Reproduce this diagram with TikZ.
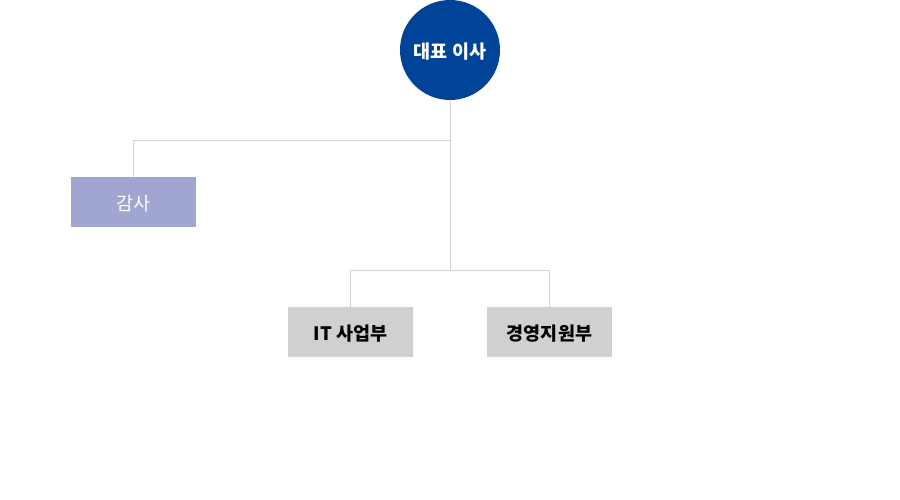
\documentclass[tikz,border=0pt]{standalone}
\usepackage{fontspec}
\setmainfont{Noto Sans CJK KR}
\definecolor{ceoblue}{HTML}{00449A}
\definecolor{auditblue}{HTML}{A0A6D0}
\definecolor{deptgray}{HTML}{D0D0D0}
\definecolor{linegray}{HTML}{D4D4D4}
\tikzset{
  ceo/.style={circle, fill=ceoblue, minimum size=100pt, inner sep=0pt, text height=17pt, text depth=0pt, text=white, font=\fontsize{18.5}{20}\selectfont\bfseries},
  auditbox/.style={rectangle, fill=auditblue, minimum width=125pt, minimum height=50pt, inner sep=0pt, text height=17pt, text depth=0pt, text=white, font=\fontsize{18.5}{20}\selectfont},
  deptbox/.style={rectangle, fill=deptgray, minimum width=125pt, minimum height=50pt, inner sep=0pt, text height=17pt, text depth=0pt, text=black, font=\fontsize{18.5}{20}\selectfont\bfseries},
  link/.style={draw=linegray, line width=1pt}
}

\begin{document}
\begin{tikzpicture}[x=1pt, y=-1pt]
    % Canvas
    \useasboundingbox (0,0) rectangle (900,500);

    % Nodes
    \node[ceo] (ceo) at (450,50) {대표 이사};
    \node[auditbox] (audit) at (133.5,202) {감사};
    \node[deptbox] (it) at (350.5,332) {IT 사업부};
    \node[deptbox] (mgmt) at (549.5,332) {경영지원부};

    % Junctions
    \coordinate (j1) at (450,141);
    \coordinate (j2) at (450,270.5);

    % Connectors
    \draw[link] (ceo.south) -- (j2);
    \draw[link] (j1) -| (audit.north);
    \draw[link] (j2) -| (it.north);
    \draw[link] (j2) -| (mgmt.north);

\end{tikzpicture}
\end{document}
